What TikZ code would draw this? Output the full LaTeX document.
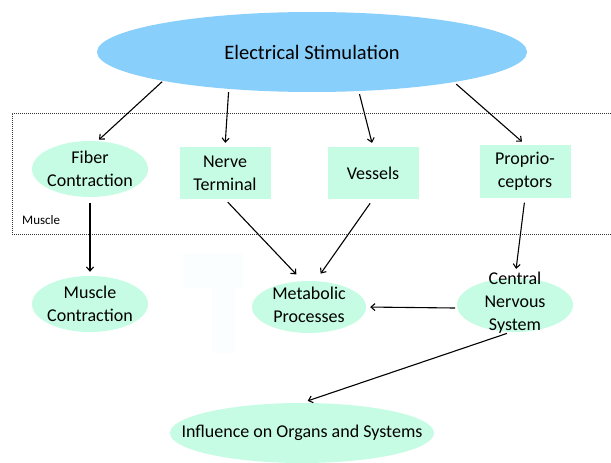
\documentclass[tikz,border=0pt]{standalone}
\usepackage{fontspec}
\setmainfont{Carlito}
\usetikzlibrary{shapes.geometric,arrows.meta}
\definecolor{topblue}{RGB}{137,207,252}
\definecolor{mint}{RGB}{198,252,228}
\definecolor{faint}{RGB}{250,254,255}
\begin{document}
\begin{tikzpicture}[x=1pt,y=-1pt,
  lbl/.style={align=center,font=\fontsize{18}{23}\selectfont,inner sep=0pt},
  mintell/.style={ellipse,fill=mint,inner sep=0pt},
  mintbox/.style={rectangle,fill=mint,inner sep=0pt,minimum width=91pt,minimum height=52pt,align=center,font=\fontsize{18}{23}\selectfont},
  arr/.style={-{Straight Barb[length=4pt,width=7pt]},line width=1.1pt,black}]
\useasboundingbox (0,0) rectangle (611,463);
% faint shape
\fill[faint] (183,253) rectangle (243,288);
\fill[faint] (212,288) rectangle (235,353);
% muscle region
\draw[dash pattern=on 1pt off 1pt,line width=1pt,black!80] (611,113) -- (12,113) -- (12,234) -- (611,234);
\node[anchor=west,inner sep=0pt,font=\fontsize{13}{15}\selectfont] (mlabel) at (22,220) {Muscle};
% nodes
\node[ellipse,fill=topblue,inner sep=0pt,minimum width=430pt,minimum height=80pt,
  label={[lbl,font=\fontsize{20.5}{24}\selectfont]center:Electrical Stimulation}] (top) at (312,52) {};
\node[mintell,minimum width=116pt,minimum height=56pt,label={[lbl]center:Fiber\\Contraction}] (fiber) at (90,169) {};
\node[mintbox] (nerve) at (225,173) {Nerve\\Terminal};
\node[mintbox] (vessels) at (373,173) {Vessels};
\node[mintbox,minimum height=53pt] (prop) at (525,171) {Proprio-\\ceptors};
\node[mintell,minimum width=116pt,minimum height=56pt,label={[lbl]center:Muscle\\Contraction}] (muscle) at (90,304) {};
\node[mintell,minimum width=114pt,minimum height=52pt,label={[lbl,yshift=2pt]center:Metabolic\\Processes}] (meta) at (309,307) {};
\node[mintell,minimum width=116pt,minimum height=54pt,label={[lbl,yshift=2pt]center:Central\\Nervous\\System}] (cns) at (515,305) {};
\node[mintell,minimum width=264pt,minimum height=60pt,label={[lbl]center:Influence on Organs and Systems}] (infl) at (302,433) {};
% connectors
\draw[arr,shorten <=1pt,shorten >=2pt] (top.191) -- (fiber.75);
\draw[arr,shorten <=3pt,shorten >=4pt] (top.204) -- (nerve.north);
\draw[arr,shorten <=3pt,shorten >=4pt] (top.-40) -- (vessels.north);
\draw[arr,shorten <=3pt,shorten >=4pt] (top.-12) -- (prop.north);
\draw[arr,shorten <=6pt,shorten >=4pt] (fiber.south) -- (muscle.north);
\draw[arr,shorten <=4pt,shorten >=9pt] (nerve.south) -- (meta.104);
\draw[arr,shorten <=5pt,shorten >=9pt] (vessels.south) -- (meta.76);
\draw[arr,shorten <=5pt,shorten >=9pt] (prop.south) -- (cns.north);
\draw[arr,shorten <=2pt,shorten >=4pt] (cns.183) -- (meta.east);
\draw[arr,shorten <=4pt,shorten >=6pt] (cns.-99) -- (infl.north);
\end{tikzpicture}
\end{document}
